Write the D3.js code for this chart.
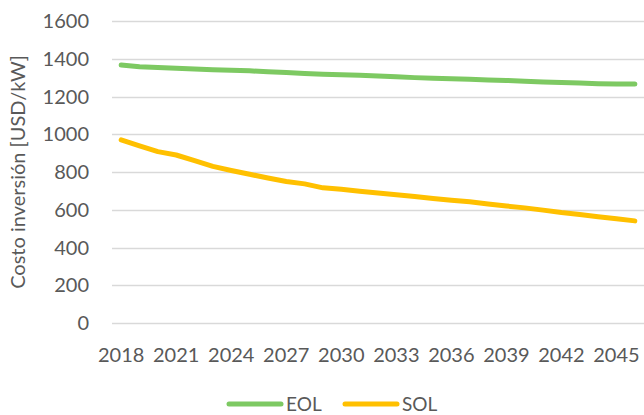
<!DOCTYPE html>
<html>
<head>
<meta charset="utf-8">
<script src="https://cdn.jsdelivr.net/npm/d3@7"></script>
<style>
  body { margin: 0; background: #fff; }
  svg text { font-family: Lato, "Open Sans", sans-serif; fill: #595959; }
</style>
</head>
<body>
<div id="chart"></div>
<script>
// costo de inversion por tecnologia, 2018-2046
var years = d3.range(2018, 2047);
var tickYears = [2018, 2021, 2024, 2027, 2030, 2033, 2036, 2039, 2042, 2045];
var yTicks = [0, 200, 400, 600, 800, 1000, 1200, 1400, 1600];

var eol = [1367, 1358, 1354, 1350, 1346, 1342, 1339, 1336, 1331, 1327,
           1322, 1318, 1315, 1312, 1309, 1304, 1300, 1297, 1294, 1291,
           1288, 1285, 1281, 1277, 1274, 1271, 1268, 1266, 1266];
var sol = [970, 938, 908, 890, 860, 830, 808, 788, 768, 750,
           737, 716, 708, 698, 689, 680, 670, 660, 650, 642,
           631, 620, 610, 598, 585, 575, 563, 552, 541];

var series = [
  { name: "EOL", values: eol, color: "#7DC962" },
  { name: "SOL", values: sol, color: "#FFC000" }
];

var config = {
  width: 644,
  height: 415,
  margin: { top: 21, right: 0, bottom: 92, left: 112 }
};

var margin = config.margin;
var width = config.width - margin.left - margin.right;
var height = config.height - margin.top - margin.bottom;

var svg = d3.select("#chart").append("svg")
    .attr("width", config.width)
    .attr("height", config.height);

var g = svg.append("g")
    .attr("transform", "translate(" + margin.left + "," + margin.top + ")");

var x = d3.scaleBand().domain(years).range([0, width]);
var y = d3.scaleLinear().domain([0, 1600]).range([height, 0]);

// gridlines
g.append("g").selectAll("line")
    .data(yTicks)
  .enter().append("line")
    .attr("x1", 0).attr("x2", width)
    .attr("y1", function(d) { return Math.round(y(d)) + 0.5; })
    .attr("y2", function(d) { return Math.round(y(d)) + 0.5; })
    .attr("stroke", "#D9D9D9")
    .attr("stroke-width", 1.5);

// y tick labels
g.append("g").selectAll("text")
    .data(yTicks)
  .enter().append("text")
    .attr("x", -23)
    .attr("y", function(d) { return y(d); })
    .attr("dy", "0.35em")
    .attr("text-anchor", "end")
    .style("font-size", "20px")
    .text(function(d) { return d; });

// x tick labels
g.append("g").selectAll("text")
    .data(tickYears)
  .enter().append("text")
    .attr("x", function(d) { return x(d) + x.bandwidth() / 2; })
    .attr("y", height + 39)
    .attr("text-anchor", "middle")
    .style("font-size", "20px")
    .text(function(d) { return d; });

var line = d3.line()
    .x(function(d, i) { return x(years[i]) + x.bandwidth() / 2; })
    .y(function(d) { return y(d); });

g.selectAll(".serie")
    .data(series)
  .enter().append("path")
    .attr("class", "serie")
    .attr("d", function(s) { return line(s.values); })
    .attr("fill", "none")
    .attr("stroke", function(s) { return s.color; })
    .attr("stroke-width", 5)
    .attr("stroke-linecap", "round")
    .attr("stroke-linejoin", "round");

// axis title
svg.append("text")
    .attr("transform", "translate(25," + (margin.top + height / 2) + ") rotate(-90)")
    .attr("text-anchor", "middle")
    .style("font-size", "20px")
    .text("Costo inversión [USD/kW]");

// legend
var legend = svg.append("g").attr("class", "legend")
    .selectAll("g")
    .data(series)
  .enter().append("g")
    .attr("transform", function(s, i) { return "translate(" + (229 + i * 116) + ",404)"; });

legend.append("line")
    .attr("x1", 0).attr("x2", 52)
    .attr("stroke", function(s) { return s.color; })
    .attr("stroke-width", 5)
    .attr("stroke-linecap", "round");

legend.append("text")
    .attr("x", 57)
    .attr("dy", "0.35em")
    .style("font-size", "19px")
    .text(function(s) { return s.name; });
</script>
</body>
</html>
